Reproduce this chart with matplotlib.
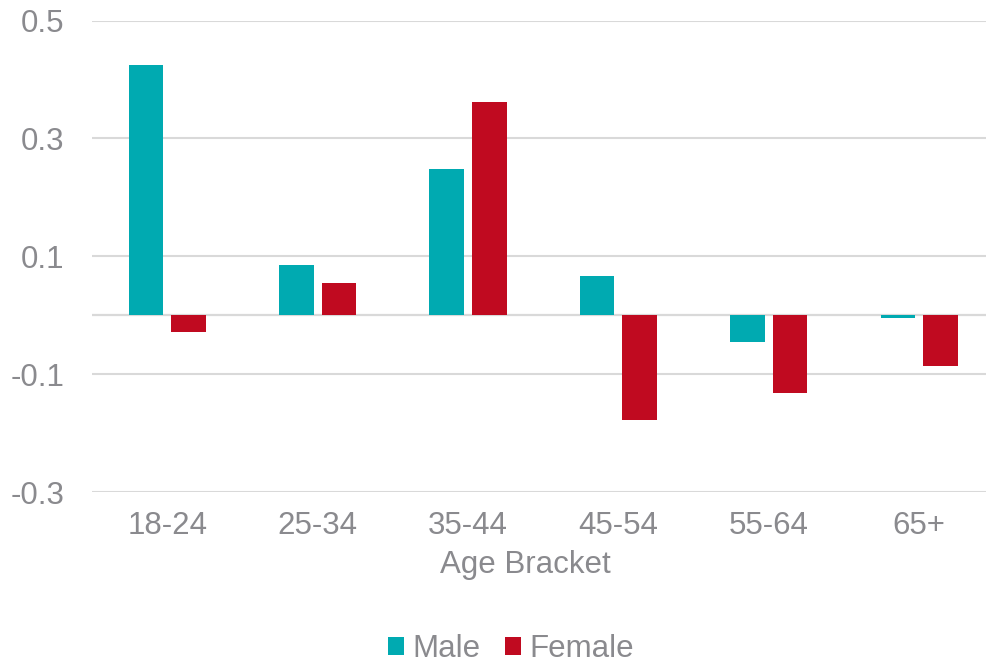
import matplotlib
matplotlib.use("Agg")
import matplotlib.pyplot as plt
import numpy as np
from matplotlib.patches import Patch

categories = ["18-24", "25-34", "35-44", "45-54", "55-64", "65+"]
male = [0.424, 0.085, 0.248, 0.067, -0.046, -0.005]
female = [-0.028, 0.054, 0.361, -0.177, -0.132, -0.087]
yticks = [-0.3, -0.1, 0.1, 0.3, 0.5]
ytick_labels = ["-0.3", "-0.1", "0.1", "0.3", "0.5"]

male_color = "#00AAB1"
female_color = "#C00A20"
text_color = "#8A8A8E"
grid_color = "#D9D9D9"

plt.rcParams['font.family'] = ['Liberation Sans', 'DejaVu Sans']
fs = 22.5

fig = plt.figure(figsize=(9.87, 6.66), dpi=100)
ax = fig.add_axes([92/987, 1-492/666, 902.4/987, (492-20.5)/666])

x = np.arange(len(categories))
w = 0.230
off = 0.1418
ax.bar(x - off, male, width=w, color=male_color, zorder=3)
ax.bar(x + off, female, width=w, color=female_color, zorder=3)

ax.set_xlim(-0.5, len(categories) - 0.5)
ax.set_ylim(-0.3, 0.5)
ax.set_yticks(yticks)
ax.set_yticklabels(ytick_labels)
ax.set_xticks(x)
ax.set_xticklabels(categories)
ax.grid(axis='y', color=grid_color, linewidth=1.5, zorder=0)
ax.axhline(0, color=grid_color, linewidth=1.6, zorder=2)
for s in ax.spines.values():
    s.set_visible(False)
ax.tick_params(axis='both', length=0, labelsize=fs, colors=text_color)
ax.tick_params(axis='y', pad=20)
ax.tick_params(axis='x', pad=14)

fig.text(525/987, 1-573.3/666, "Age Bracket", ha='center', va='baseline',
         fontsize=fs, color=text_color)

handles = [Patch(facecolor=male_color, label="Male"),
           Patch(facecolor=female_color, label="Female")]
leg = fig.legend(handles=handles, loc='center', bbox_to_anchor=(511/987, 1-649/666),
                 ncol=2, frameon=False, fontsize=fs, handlelength=0.5, handleheight=0.5,
                 handletextpad=0.27, columnspacing=0.8, borderpad=0, borderaxespad=0)
for t in leg.get_texts():
    t.set_color(text_color)

fig.savefig("out.png", dpi=100, facecolor='white')
